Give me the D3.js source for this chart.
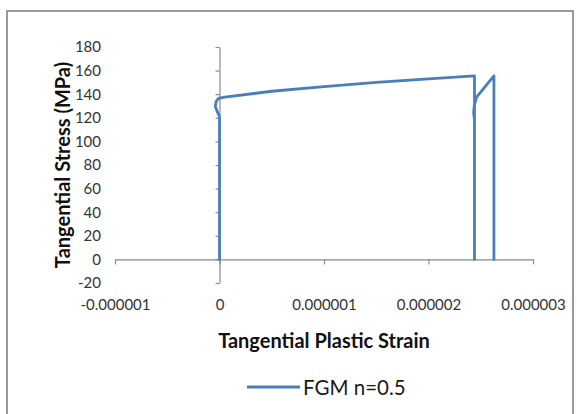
<!DOCTYPE html>
<html>
<head>
<meta charset="utf-8">
<script src="https://cdn.jsdelivr.net/npm/d3@7"></script>
<style>
  html, body { margin: 0; padding: 0; background: #fff; }
  svg { display: block; }
  text { font-family: Lato, "Liberation Sans", Arial, sans-serif; }
</style>
</head>
<body>
<svg id="chart" width="577" height="414"></svg>
<script>
// ---- data ----
const seriesName = "FGM n=0.5";
const strain = [0, 0, -0.02e-6, -0.04e-6, -0.032e-6, -0.01e-6, 0.05e-6, 0.5e-6, 1.0e-6, 1.5e-6, 2.0e-6, 2.44e-6, 2.44e-6, 2.44e-6, 2.432e-6, 2.437e-6, 2.46e-6, 2.626e-6, 2.626e-6];
const stress = [0, 121, 125, 129.5, 134, 136.5, 137.5, 142.5, 146.5, 150, 153, 155.5, 0, 118, 124, 130, 137.5, 155.5, 0];
const xTicks = [-0.000001, 0, 0.000001, 0.000002, 0.000003];
const xTickLabels = ["-0.000001", "0", "0.000001", "0.000002", "0.000003"];
const yTicks = [-20, 0, 20, 40, 60, 80, 100, 120, 140, 160, 180];
const yTickLabels = ["-20", "0", "20", "40", "60", "80", "100", "120", "140", "160", "180"];
const xTitle = "Tangential Plastic Strain";
const yTitle = "Tangential Stress (MPa)";

const svg = d3.select("#chart");
const axisColor = "#8a8a8a";
const lineColor = "#4a7ebb";
const tickFont = 15;

// frame
svg.append("rect")
  .attr("x", 7).attr("y", 11).attr("width", 566).attr("height", 420)
  .attr("fill", "none").attr("stroke", "#9a9a9a").attr("stroke-width", 2);

const x = d3.scaleLinear().domain([-0.000001, 0.000003]).range([115, 533]);
const y = d3.scaleLinear().domain([-20, 180]).range([283, 47]);

// y axis line crossing at x=0 with left ticks
const yAxisG = svg.append("g").attr("transform", `translate(${x(0)},0)`)
  .call(d3.axisLeft(y).tickValues(yTicks).tickSize(4).tickSizeOuter(0).tickFormat(""));
yAxisG.selectAll("path,line").attr("stroke", axisColor).attr("stroke-width", 1.2);

// x axis line crossing at y=0 with down ticks
const xAxisG = svg.append("g").attr("transform", `translate(0,${y(0)})`)
  .call(d3.axisBottom(x).tickValues(xTicks).tickSize(5).tickSizeOuter(0).tickFormat(""));
xAxisG.selectAll("path,line").attr("stroke", axisColor).attr("stroke-width", 1.2);

// y tick labels at low position
const yLab = svg.append("g").attr("transform", `translate(101,0)`)
  .call(d3.axisLeft(y).tickValues(yTicks).tickSize(0).tickPadding(0)
    .tickFormat((d, i) => yTickLabels[i]));
yLab.select(".domain").remove();
yLab.selectAll("text").attr("font-size", tickFont).attr("fill", "#333");

// x tick labels at low position
const xLab = svg.append("g").attr("transform", `translate(0,299)`)
  .call(d3.axisBottom(x).tickValues(xTicks).tickSize(0).tickPadding(0)
    .tickFormat((d, i) => xTickLabels[i]));
xLab.select(".domain").remove();
xLab.selectAll("text").attr("font-size", tickFont).attr("fill", "#333");
svg.selectAll(".tick text").style("font-family", "Lato, 'Liberation Sans', sans-serif");

// series
const pts = strain.map((s, i) => [s, stress[i]]);
svg.append("path")
  .datum(pts)
  .attr("fill", "none")
  .attr("stroke", lineColor)
  .attr("stroke-width", 2.8)
  .attr("stroke-linejoin", "round")
  .attr("stroke-linecap", "round")
  .attr("d", d3.line().x(d => x(d[0])).y(d => y(d[1])));

// axis titles
svg.append("text")
  .attr("x", 324).attr("y", 348)
  .attr("text-anchor", "middle")
  .attr("font-size", 20).attr("font-weight", "bold").attr("fill", "#111")
  .text(xTitle);

svg.append("text")
  .attr("transform", "translate(62,165) rotate(-90)")
  .attr("text-anchor", "middle").attr("dominant-baseline", "central")
  .attr("font-size", 20).attr("font-weight", "bold").attr("fill", "#111")
  .text(yTitle);

// legend
svg.append("line")
  .attr("x1", 247).attr("x2", 300).attr("y1", 387).attr("y2", 387)
  .attr("stroke", lineColor).attr("stroke-width", 2.8);
svg.append("text")
  .attr("x", 303).attr("y", 387)
  .attr("dominant-baseline", "central")
  .attr("font-size", 20.5).attr("fill", "#1a1a1a")
  .text(seriesName);
</script>
</body>
</html>
